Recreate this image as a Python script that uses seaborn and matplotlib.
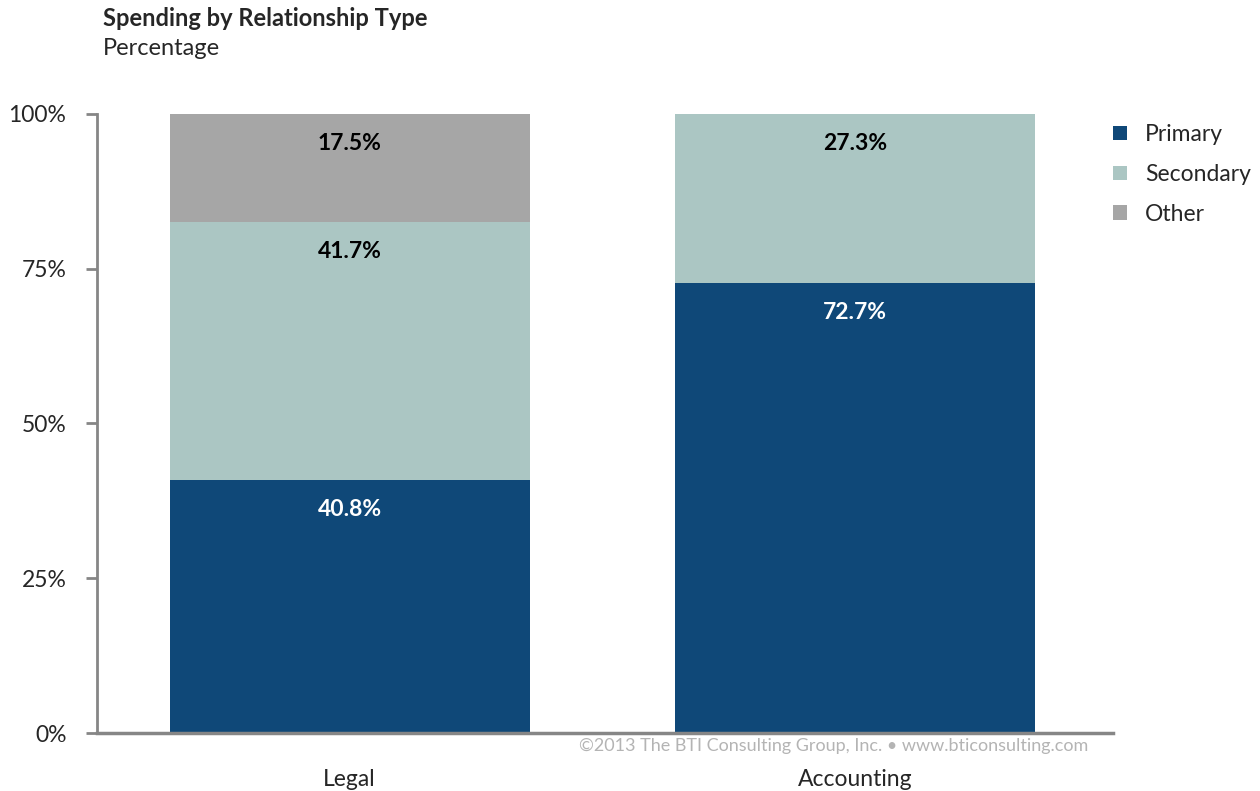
import matplotlib
matplotlib.use("Agg")
import matplotlib.pyplot as plt
import seaborn as sns
import pandas as pd
from matplotlib.patches import Patch

categories = ["Legal", "Accounting"]
series = ["Primary", "Secondary", "Other"]
primary = [40.8, 72.7]
secondary = [41.7, 27.3]
other = [17.5, 0.0]
colors = {"Primary": "#0F4878", "Secondary": "#ABC6C3", "Other": "#A6A6A6"}
label_colors = {"Primary": "white", "Secondary": "black", "Other": "black"}
yticks = [0, 25, 50, 75, 100]
ytick_labels = ["0%", "25%", "50%", "75%", "100%"]

sns.set_theme(style="white")
plt.rcParams["font.family"] = ["Lato", "DejaVu Sans"]

df = pd.DataFrame({"category": categories, "Primary": primary,
                   "Secondary": secondary, "Other": other})

fig = plt.figure(figsize=(12.6, 7.91), dpi=100)
ax = fig.add_axes([0.077, 0.0733, 0.806, 0.7827])

bottom = [0.0] * len(categories)
for s in series:
    sns.barplot(data=df, x="category", y=s, order=categories, color=colors[s],
                width=0.713, bottom=bottom, ax=ax, saturation=1, linewidth=0)
    for i, v in enumerate(df[s]):
        if v > 0:
            top = bottom[i] + v
            ax.annotate(f"{v:.1f}%", xy=(i, top), xytext=(0, -21),
                        textcoords="offset points", ha="center", va="center",
                        fontsize=16.5, fontweight="bold", color=label_colors[s])
    bottom = [b + v for b, v in zip(bottom, df[s])]

ax.set_xlim(-0.5, 1.51)
ax.set_ylim(0, 100)
ax.set_yticks(yticks)
ax.set_yticklabels(ytick_labels, fontsize=16.5)
ax.set_xlabel("")
ax.set_ylabel("")
ax.tick_params(axis="y", left=True, length=8, width=2, color="#868686", pad=14)
ax.tick_params(axis="x", bottom=False, pad=20, labelsize=16.5)
for lbl in ax.get_xticklabels():
    lbl.set_verticalalignment("top")
for side in ["top", "right"]:
    ax.spines[side].set_visible(False)
ax.spines["left"].set_color("#868686")
ax.spines["left"].set_linewidth(2)
ax.spines["bottom"].set_color("#868686")
ax.spines["bottom"].set_linewidth(2.5)

handles = [Patch(facecolor=colors[s], edgecolor="none", label=s) for s in series]
fig.legend(handles=handles, loc="upper left", bbox_to_anchor=(0.867, 0.869),
           frameon=False, fontsize=16.5, handlelength=0.6, handleheight=0.6,
           handletextpad=0.8, labelspacing=0.82)

fig.text(0.082, 0.977, "Spending by Relationship Type", fontsize=17,
         fontweight="bold", va="center", ha="left")
fig.text(0.082, 0.939, "Percentage", fontsize=17, va="center", ha="left")
fig.text(0.662, 0.057, "\u00a92013 The BTI Consulting Group, Inc. \u2022 www.bticonsulting.com",
         fontsize=13, color="#B4B4B4", va="center", ha="center")

fig.savefig("out.png", dpi=100)
